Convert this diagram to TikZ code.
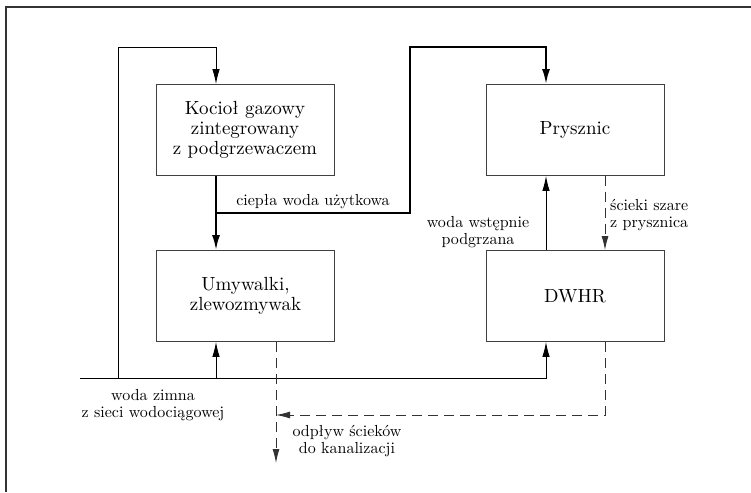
\documentclass[tikz,border=0pt]{standalone}
\usepackage{fontspec}
\setmainfont{lmroman10-regular.otf}
\usetikzlibrary{arrows.meta}
\begin{document}
\begin{tikzpicture}[x=1pt,y=-1pt,
  box/.style={draw=black!75, line width=0.9pt, minimum width=178pt, minimum height=91pt, inner sep=2pt, align=center, font=\fontsize{19}{20}\selectfont},
  lbl/.style={inner sep=0pt, align=center, font=\fontsize{16}{17.5}\selectfont},
  pipe/.style={line width=0.9pt, -{Latex[length=15pt,width=7.5pt]}},
  hot/.style={line width=2pt, -{Latex[length=15pt,width=8pt]}},
  waste/.style={line width=0.9pt, black!80, dash pattern=on 10pt off 6pt, -{Latex[length=14pt,width=7pt]}}]
\useasboundingbox (0,0) rectangle (751,492);
% frame
\draw[black!80, line width=1.5pt] (6,492) -- (6,7) -- (751,7);
% boxes
\node[box] (boiler) at (245,130) {Kocioł gazowy\\zintegrowany\\z podgrzewaczem};
\node[box] (pry) at (575,130) {Prysznic};
\node[box] (umy) at (245.5,296) {Umywalki,\\zlewozmywak};
\node[box] (dwhr) at (575,296) {DWHR};
% helper coordinates
\coordinate (cwL) at (80,378);
\coordinate (cwR) at (546,378);
\coordinate (loopB) at (118,378);
\coordinate (loopT) at (118,47);
\coordinate (bIn) at (216,47);
\coordinate (umyIn) at (216,378);
\coordinate (hj) at (216,213);
\coordinate (hc) at (410,213);
\coordinate (ht) at (410,47);
\coordinate (pIn) at (546,47);
\coordinate (gx) at (605,0);
\coordinate (dc) at (605,415);
\coordinate (sw) at (276,415);
\coordinate (drainx) at (276,0);
\coordinate (drainEnd) at (276,463);
% cold water
\draw[pipe] (cwL) -- (cwR) -- (cwR |- dwhr.south);
\draw[pipe] (loopB) -- (loopT) -- (bIn) -- (bIn |- boiler.north);
\draw[pipe] (umyIn) -- (umyIn |- umy.south);
% pre-heated water
\draw[pipe] (cwR |- dwhr.north) -- (cwR |- pry.south);
% hot water
\draw[hot] (bIn |- boiler.south) -- (bIn |- umy.north);
\draw[hot] (hj) -- (hc) -- (ht) -- (pIn) -- (pIn |- pry.north);
% waste water
\draw[waste] (gx |- pry.south) -- (gx |- dwhr.north);
\draw[waste] (gx |- dwhr.south) -- (dc) -- (sw);
\draw[waste] (drainx |- umy.south) -- (drainEnd);
% labels
\node[lbl, anchor=base] (l1) at (313,205) {ciepła woda użytkowa};
\node[lbl] (l2) at (478,232) {woda wstępnie\\podgrzana};
\node[lbl, align=left, anchor=west] (l3) at (610,215) {ścieki szare\\z prysznica};
\node[lbl] (l4) at (153,405) {woda zimna\\z sieci wodociągowej};
\node[lbl] (l5) at (347,441) {odpływ ścieków\\do kanalizacji};
\end{tikzpicture}
\end{document}
